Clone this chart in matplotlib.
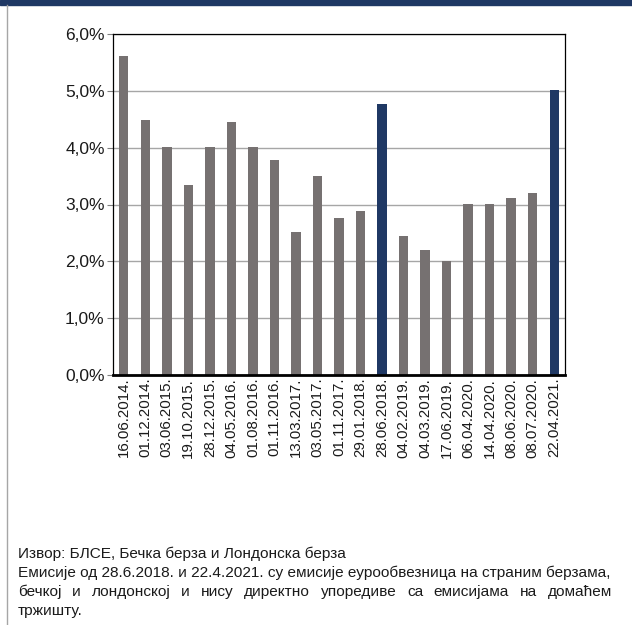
import matplotlib
matplotlib.use('Agg')
import matplotlib.pyplot as plt
from matplotlib.lines import Line2D
from matplotlib.patches import Rectangle
from matplotlib.ticker import FuncFormatter

# Data
dates = ['16.06.2014.', '01.12.2014.', '03.06.2015.', '19.10.2015.', '28.12.2015.',
         '04.05.2016.', '01.08.2016.', '01.11.2016.', '13.03.2017.', '03.05.2017.',
         '01.11.2017.', '29.01.2018.', '28.06.2018.', '04.02.2019.', '04.03.2019.',
         '17.06.2019.', '06.04.2020.', '14.04.2020.', '08.06.2020.', '08.07.2020.',
         '22.04.2021.']
yields = [5.61, 4.48, 4.02, 3.35, 4.01, 4.46, 4.01, 3.79, 2.51, 3.50, 2.76,
          2.89, 4.76, 2.45, 2.20, 2.00, 3.01, 3.01, 3.11, 3.21, 5.01]
# Eurobond issues on foreign exchanges are highlighted
eurobond = ['28.06.2018.', '22.04.2021.']

source_line = 'Извор: БЛСЕ, Бечка берза и Лондонска берза'
note_lines = ['Емисије од 28.6.2018. и 22.4.2021. су емисије еурообвезница на страним берзама,',
              'бечкој и лондонској и нису директно упоредиве са емисијама на домаћем',
              'тржишту.']

GREY = '#767171'
NAVY = '#1f3864'
TXT = '#1a1a1a'
W, H = 632, 625

plt.rcParams['font.family'] = ['Liberation Sans', 'DejaVu Sans']

fig = plt.figure(figsize=(W / 100, H / 100), dpi=100)

# Frame decorations: navy strip at the top and grey line on the left
fig.patches.append(Rectangle((0, 1 - 5 / H), 1, 5 / H, transform=fig.transFigure,
                             color=NAVY, zorder=0))
fig.lines.append(Line2D([7 / W, 7 / W], [0, 1 - 5 / H], transform=fig.transFigure,
                        color='#a6a6a6', linewidth=1.0))

# Axes (pixel positions from the reference)
ax = fig.add_axes([113 / W, (H - 375) / H, 452 / W, 341 / H])
x = list(range(len(dates)))
colours = [NAVY if d in eurobond else GREY for d in dates]
ax.bar(x, yields, width=0.44, color=colours, zorder=3)

ax.set_xlim(-0.5, len(dates) - 0.5)
ax.set_ylim(0, 6)
ax.set_yticks(range(0, 7))
ax.yaxis.set_major_formatter(FuncFormatter(lambda v, p: f'{v:.1f}%'.replace('.', ',')))
ax.set_xticks(x)
ax.set_xticklabels(dates, rotation=90)
ax.tick_params(axis='y', labelsize=12.5, length=4, width=0.8, color='#808080', pad=2,
               labelcolor=TXT)
ax.tick_params(axis='x', labelsize=10.8, length=0, pad=2, labelcolor=TXT)
ax.grid(axis='y', color='#a6a6a6', linewidth=1.0, zorder=0)
for side in ['top', 'right', 'left']:
    ax.spines[side].set_linewidth(0.9)
ax.spines['bottom'].set_linewidth(2.0)
ax.spines['bottom'].set_zorder(4)

# Footnote text
fs = 11.1
fig.text(18 / W, 1 - 558 / H, source_line, fontsize=fs, va='baseline', color=TXT)
fig.text(18 / W, 1 - 577 / H, note_lines[0], fontsize=fs, va='baseline', color=TXT)
fig.text(18 / W, 1 - 615 / H, note_lines[2], fontsize=fs, va='baseline', color=TXT)

# Justified middle line: measure words and spread them to the right edge
renderer = fig.canvas.get_renderer()
words = note_lines[1].split(' ')
x0, x1 = 18, 612
widths = []
for w in words:
    t = fig.text(0, 0, w, fontsize=fs)
    widths.append(t.get_window_extent(renderer).width)
    t.remove()
gap = (x1 - x0 - sum(widths)) / (len(words) - 1)
pos = x0
for w, wd in zip(words, widths):
    fig.text(pos / W, 1 - 596 / H, w, fontsize=fs, va='baseline', color=TXT)
    pos += wd + gap

fig.savefig('out.png', dpi=100)
